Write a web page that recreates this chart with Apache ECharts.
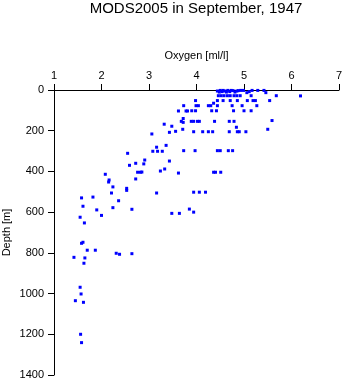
<!DOCTYPE html>
<html>
<head>
<meta charset="utf-8">
<script src="https://cdn.jsdelivr.net/npm/echarts@6/dist/echarts.min.js"></script>
<style>
  html, body { margin: 0; padding: 0; background: #fff; }
  #chart { width: 345px; height: 384px; }
</style>
</head>
<body>
<div id="chart"></div>
<script>
// Dissolved oxygen profile samples (ml/l) with their depths (m)
const oxygen = [
  // near surface
  4.44, 4.48, 4.50, 4.54, 4.56, 4.60, 4.63, 4.66, 4.70, 4.73, 4.77, 4.81, 4.85, 4.88, 4.93, 4.99, 5.06, 5.11, 5.17, 5.29, 5.42, 5.46,
  // ~30 m
  4.46, 4.52, 4.58, 4.65, 4.71, 4.79, 4.85, 4.92, 5.15, 5.68, 6.19,
  // ~50 m
  3.98, 4.44, 4.56, 4.71, 4.86, 5.07, 5.19, 5.24, 5.54, 4.36,
  // ~75 m
  3.73, 3.99, 4.04, 4.25, 4.30, 4.44, 4.75, 4.96, 5.27,
  // ~100 m
  3.62, 3.78, 3.81, 3.90, 3.98, 4.32, 4.42, 4.78, 5.00, 5.15,
  // 140-220 m
  3.72, 3.68, 3.72, 3.89, 3.94, 4.02, 4.06, 4.38, 4.69, 4.79, 5.59,
  3.32, 3.48, 4.84, 3.71, 5.50, 3.43, 3.56,
  3.94, 4.13, 4.25, 4.34, 4.69, 4.86, 4.90, 5.04, 3.06,
  // 270-370 m
  3.36, 3.16, 3.08, 3.18, 3.28, 3.73, 3.97, 4.44, 4.50, 4.67, 4.76,
  2.55, 2.91, 3.43, 2.72, 2.89, 2.59,
  // 380-510 m
  3.33, 3.24, 2.76, 2.82, 2.85, 3.62, 4.36, 4.40, 4.51,
  2.08, 2.72, 2.16, 2.15, 2.24, 2.53, 2.53, 2.21, 3.16, 3.94, 4.06, 4.19,
  // 520-660 m
  1.82, 1.58, 2.36, 1.61, 2.24, 3.85, 2.64, 1.90, 3.94, 3.48, 3.64, 2.00, 1.55, 1.64,
  // deep
  1.61, 1.58, 1.70, 1.87, 2.31, 2.38, 2.64, 1.42, 1.65, 1.63,
  1.55, 1.57, 1.45, 1.62, 1.56, 1.58
];
const depth = [
  5, 10, 2, 8, 2, 5, 10, 2, 8, 2, 3, 10, 5, 3, 2, 2, 13, 8, 2, 2, 2, 13,
  28, 28, 28, 28, 28, 28, 28, 28, 28, 28, 29,
  52, 52, 52, 52, 52, 52, 52, 52, 52, 65,
  77, 77, 77, 77, 77, 77, 77, 77, 77,
  103, 103, 103, 102, 102, 102, 102, 102, 102, 102,
  140, 154, 159, 154, 154, 154, 154, 154, 154, 154, 150,
  168, 178, 183, 193, 193, 208, 203,
  205, 205, 205, 205, 205, 205, 205, 205, 216,
  272, 281, 301, 301, 301, 298, 298, 298, 298, 298, 298,
  311, 344, 349, 360, 363, 370,
  388, 398, 404, 404, 403, 408, 404, 404, 404,
  414, 437, 442, 452, 476, 483, 493, 506, 506, 502, 502, 502,
  526, 530, 544, 571, 578, 585, 586, 589, 600, 606, 606, 616, 625, 653,
  748, 753, 787, 787, 802, 807, 804, 822, 825, 851,
  969, 1002, 1035, 1043, 1200, 1241
];

const points = oxygen.map((o, i) => [o, depth[i]]);

const FONT = 'Liberation Sans, Arial, Helvetica, sans-serif';
const chart = echarts.init(document.getElementById('chart'), null, { renderer: 'canvas' });

chart.setOption({
  animation: false,
  backgroundColor: '#ffffff',
  graphic: [{
    type: 'text',
    x: 196,
    y: 1,
    style: {
      text: 'MODS2005 in September, 1947',
      textAlign: 'center',
      textVerticalAlign: 'top',
      font: '15px ' + FONT,
      fill: '#000'
    }
  }],
  grid: {
    left: 54, top: 90, width: 285, height: 285,
    containLabel: false,
    outerBoundsMode: 'none'
  },
  xAxis: {
    type: 'value',
    position: 'top',
    min: 1, max: 7, interval: 1,
    name: 'Oxygen [ml/l]',
    nameLocation: 'middle',
    nameGap: 29,
    nameMoveOverlap: false,
    nameTextStyle: { fontFamily: FONT, fontSize: 11, color: '#000' },
    axisLine: { show: true, onZero: false, lineStyle: { color: '#000', width: 1 } },
    axisTick: { show: true, inside: false, length: 6, lineStyle: { color: '#000' } },
    axisLabel: { fontFamily: FONT, fontSize: 11, color: '#000', margin: 9, formatter: v => String(v) },
    splitLine: { show: false }
  },
  yAxis: {
    type: 'value',
    inverse: true,
    min: 0, max: 1400, interval: 200,
    name: 'Depth [m]',
    nameLocation: 'middle',
    nameRotate: 90,
    nameGap: 42,
    nameMoveOverlap: false,
    nameTextStyle: { fontFamily: FONT, fontSize: 11, color: '#000' },
    axisLine: { show: true, onZero: false, lineStyle: { color: '#000', width: 1 } },
    axisTick: { show: true, inside: false, length: 6, lineStyle: { color: '#000' } },
    axisLabel: { fontFamily: FONT, fontSize: 11, color: '#000', margin: 10, formatter: v => String(v) },
    splitLine: { show: false }
  },
  series: [{
    type: 'scatter',
    data: points,
    symbol: 'rect',
    symbolSize: [3, 3],
    itemStyle: { color: '#0000ff', opacity: 1 },
    emphasis: { disabled: true }
  }]
});
</script>
</body>
</html>
